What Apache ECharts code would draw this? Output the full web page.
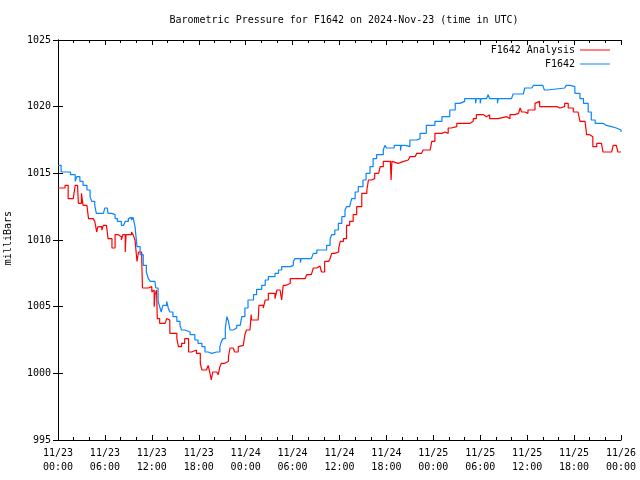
<!DOCTYPE html>
<html>
<head>
<meta charset="utf-8">
<script src="https://cdn.jsdelivr.net/npm/echarts@6/dist/echarts.min.js"></script>
<style>html,body{margin:0;padding:0;background:#fff}#c{width:640px;height:480px}</style>
</head>
<body>
<div id="c"></div>
<script>
// x in hours since 2024-11-23 00:00 UTC
const xTickLabels = ['11/23\n00:00','11/23\n06:00','11/23\n12:00','11/23\n18:00','11/24\n00:00','11/24\n06:00','11/24\n12:00','11/24\n18:00','11/25\n00:00','11/25\n06:00','11/25\n12:00','11/25\n18:00','11/26\n00:00'];

const obsHours = [0,0.4,1.6,2.2,2.4,2.8,3.2,3.7,4.1,4.3,4.7,4.9,5.8,6.0,6.3,6.4,6.9,7.3,7.6,8.1,8.4,8.6,9.0,9.2,9.4,9.6,9.85,10.1,10.5,10.9,11.3,11.55,11.8,12.4,12.5,12.8,13.0,13.2,13.4,13.9,14.1,14.3,14.7,15.2,15.6,15.8,16.2,16.9,17.5,17.9,18.4,18.8,19.2,19.65,19.9,20.3,20.7,20.9,21.1,21.4,21.6,21.8,22.0,22.4,22.6,22.85,23.3,23.5,23.9,24.3,25.0,25.4,26.05,26.5,26.9,27.75,28.2,28.6,29.7,29.9,30.1,30.3,31.0,31.1,32.4,32.65,33.1,34.35,34.8,35.0,35.4,35.85,36.3,36.7,36.9,37.3,37.55,38.0,38.4,39.0,39.4,39.9,40.3,40.75,41.6,41.8,42.0,42.7,43.0,43.8,43.9,44.4,45.0,45.9,46.3,47.1,48.2,49.1,50.1,50.8,51.4,52.0,53.4,53.5,54.0,54.1,54.8,55.0,55.2,56.2,56.3,58.0,58.2,59.5,59.7,60.6,60.8,62.0,62.2,62.6,64.8,65.0,65.5,66.1,66.75,67.2,67.8,68.2,68.7,69.7,70.1,70.8,71.4,72.0];
const obsValues = [1015.6,1015.1,1014.9,1014.4,1014.75,1014.4,1014.1,1013.75,1013.25,1012.9,1012.6,1012.0,1012.0,1012.4,1012.4,1012.0,1011.9,1011.6,1011.4,1011.1,1011.0,1011.4,1011.6,1011.7,1011.5,1011.7,1011.0,1009.5,1008.9,1008.1,1007.6,1007.1,1006.9,1006.9,1006.4,1005.4,1005.0,1004.6,1005.1,1005.4,1004.9,1004.6,1004.25,1003.9,1003.6,1003.25,1003.1,1002.9,1002.5,1002.25,1002.0,1001.6,1001.5,1001.4,1001.6,1001.6,1002.0,1002.4,1002.6,1003.4,1004.25,1003.9,1003.25,1003.1,1003.4,1003.6,1003.75,1004.25,1004.9,1005.5,1005.9,1006.3,1006.6,1007.0,1007.25,1007.5,1007.75,1008.0,1008.0,1008.1,1008.4,1008.6,1008.3,1008.6,1008.6,1009.0,1009.25,1009.6,1010.1,1010.4,1010.75,1011.25,1011.75,1012.25,1012.5,1012.6,1013.1,1013.6,1014.0,1014.5,1015.0,1015.5,1016.1,1016.4,1016.75,1017.1,1016.9,1016.9,1017.1,1016.7,1017.1,1017.0,1017.5,1017.6,1018.0,1018.6,1018.9,1019.25,1019.75,1020.25,1020.4,1020.6,1020.25,1020.6,1020.25,1020.6,1020.6,1020.9,1020.6,1020.25,1020.6,1020.6,1020.95,1020.95,1021.4,1021.4,1021.6,1021.6,1021.25,1021.4,1021.4,1021.6,1021.5,1021.0,1020.6,1020.25,1019.6,1019.0,1018.75,1018.6,1018.5,1018.4,1018.25,1018.1];

const anaHours = [0,0.9,1.3,1.95,2.2,2.5,2.6,3.0,3.2,3.7,3.9,4.5,4.7,4.95,5.1,5.6,5.8,6.2,6.4,6.9,7.1,7.3,7.7,8.1,8.3,8.6,8.7,9.4,9.6,9.85,10.1,10.3,10.7,10.8,11.55,12.0,12.2,12.3,12.4,12.6,12.7,13.0,13.7,13.9,14.1,14.3,14.7,15.2,15.4,15.8,16.2,16.7,17.1,17.3,17.7,18.2,18.4,19.0,19.2,19.4,19.6,19.8,20.3,20.5,20.7,20.9,21.35,21.8,22.0,22.4,22.6,23.05,23.3,23.7,23.9,24.1,24.55,24.7,24.75,25.6,25.7,26.25,26.5,26.9,27.3,27.75,28.0,28.4,28.6,28.8,29.2,29.7,31.6,31.8,32.4,32.65,33.1,33.5,33.7,34.1,34.6,34.8,35.0,35.4,35.9,36.1,36.5,36.9,37.3,37.75,38.2,38.85,39.5,39.7,40.1,40.5,41.0,41.2,41.6,42.5,42.6,42.7,42.9,43.5,43.7,44.2,44.8,45.0,45.65,45.9,46.5,46.7,47.6,47.8,48.2,49.1,49.5,49.9,50.3,51.0,52.0,52.7,52.9,53.1,53.5,54.4,54.8,55.2,56.3,57.4,57.8,58.4,58.9,59.1,59.3,59.7,60.1,60.6,61.0,61.2,61.6,63.3,63.8,64.2,64.8,65.25,65.9,66.5,66.75,67.4,67.6,68.0,68.4,68.9,69.5,69.7,70.35,70.8,71.0,71.4,71.6,72.0];
const anaValues = [1013.9,1014.1,1013.1,1013.25,1014.1,1014.1,1012.75,1013.5,1012.6,1012.75,1011.6,1011.6,1011.4,1010.6,1011.0,1010.75,1011.1,1011.1,1010.1,1009.4,1009.4,1010.4,1010.25,1010.0,1010.4,1009.1,1010.4,1010.6,1010.4,1010.0,1008.4,1009.1,1008.75,1006.4,1006.5,1006.1,1006.25,1005.0,1005.9,1006.25,1004.1,1003.75,1003.75,1004.1,1004.0,1003.0,1003.0,1002.6,1002.0,1002.25,1002.6,1001.6,1001.5,1001.75,1001.5,1000.75,1000.25,1000.1,1000.6,1000.1,999.5,1000.1,1000.0,999.9,1000.5,1000.75,1000.9,1001.25,1001.9,1001.9,1001.6,1002.0,1002.1,1002.1,1002.9,1003.25,1003.4,1004.4,1004.0,1004.0,1005.1,1004.9,1005.5,1006.0,1006.0,1005.6,1006.25,1006.4,1005.5,1006.6,1006.75,1007.1,1007.25,1007.4,1007.4,1007.9,1008.05,1008.0,1007.6,1008.4,1008.4,1008.6,1009.0,1009.1,1009.4,1009.9,1010.1,1011.1,1011.4,1011.9,1012.5,1013.5,1013.75,1014.5,1014.6,1015.0,1015.1,1015.5,1015.9,1015.9,1014.5,1015.9,1015.75,1015.75,1015.9,1016.0,1016.1,1016.25,1016.4,1016.5,1016.6,1016.75,1016.75,1017.4,1018.0,1018.1,1018.0,1018.4,1018.5,1018.75,1018.75,1018.6,1018.9,1019.1,1019.4,1019.25,1019.4,1019.1,1019.25,1019.1,1019.4,1019.5,1019.6,1019.9,1019.6,1019.5,1019.75,1019.75,1020.25,1020.4,1020.0,1020.0,1019.9,1020.0,1020.25,1019.9,1019.6,1019.6,1018.9,1018.75,1017.9,1017.75,1017.0,1017.25,1017.25,1016.6,1016.6,1016.75,1017.1,1017.1,1016.6,1016.6];

const seriesNames = ['F1642 Analysis','F1642'];
const seriesColors = ['#ff0000','#0a84ff'];

const FONT = 'DejaVu Sans Mono';
const pairs = (xs, ys) => xs.map((x, i) => [x, ys[i]]);

const chart = echarts.init(document.getElementById('c'), null, {renderer: 'canvas'});
const tickCommon = {
  axisLine: {show: true, lineStyle: {color: '#000', width: 1}},
  axisTick: {show: true, inside: true, length: 5, lineStyle: {color: '#000'}},
  splitLine: {show: false}
};
chart.setOption({
  animation: false,
  backgroundColor: '#fff',
  title: {
    text: 'Barometric Pressure for F1642 on 2024-Nov-23 (time in UTC)',
    left: 339, top: 10, textAlign: 'center',
    textStyle: {fontFamily: FONT, fontSize: 10, fontWeight: 'normal', color: '#000'}
  },
  graphic: [{
    type: 'text', left: 3, top: 211, rotation: Math.PI / 2,
    style: {text: 'milliBars', font: '10px "DejaVu Sans Mono"', fill: '#000'}
  }],
  legend: [
    {data: [seriesNames[0]], right: 25, top: 40, orient: 'vertical', align: 'right', icon: 'rect', itemWidth: 30, itemHeight: 1, itemGap: 5,
     textStyle: {fontFamily: FONT, fontSize: 10, color: '#000'}},
    {data: [seriesNames[1]], right: 25, top: 54, orient: 'vertical', align: 'right', icon: 'rect', itemWidth: 30, itemHeight: 1, itemGap: 5,
     textStyle: {fontFamily: FONT, fontSize: 10, color: '#000'}}
  ],
  grid: {left: 58, right: 19, top: 40, bottom: 40, containLabel: false},
  xAxis: [
    Object.assign({}, tickCommon, {
      type: 'value', min: 0, max: 72, interval: 6, position: 'bottom',
      minorTick: {show: true, splitNumber: 3, length: 3, lineStyle: {color: '#000'}},
      axisLabel: {formatter: v => xTickLabels[Math.round(v / 6)], fontFamily: FONT, fontSize: 10, color: '#000', margin: 6, lineHeight: 14}
    }),
    Object.assign({}, tickCommon, {
      type: 'value', min: 0, max: 72, interval: 6, position: 'top',
      minorTick: {show: true, splitNumber: 3, length: 3, lineStyle: {color: '#000'}},
      axisLabel: {show: false}
    })
  ],
  yAxis: [
    Object.assign({}, tickCommon, {
      type: 'value', min: 995, max: 1025, interval: 5, position: 'left',
      axisLabel: {formatter: v => String(v), fontFamily: FONT, fontSize: 10, color: '#000', margin: 7}
    }),
    Object.assign({}, tickCommon, {
      type: 'value', min: 995, max: 1025, interval: 5, position: 'right',
      axisLabel: {show: false}
    })
  ],
  series: [
    {name: seriesNames[0], type: 'line', step: 'end', showSymbol: false, symbol: 'none',
     data: pairs(anaHours, anaValues), color: seriesColors[0], lineStyle: {width: 1.2, color: seriesColors[0]}},
    {name: seriesNames[1], type: 'line', step: 'end', showSymbol: false, symbol: 'none',
     data: pairs(obsHours, obsValues), color: seriesColors[1], lineStyle: {width: 1.2, color: seriesColors[1]}}
  ]
});
</script>
</body>
</html>
